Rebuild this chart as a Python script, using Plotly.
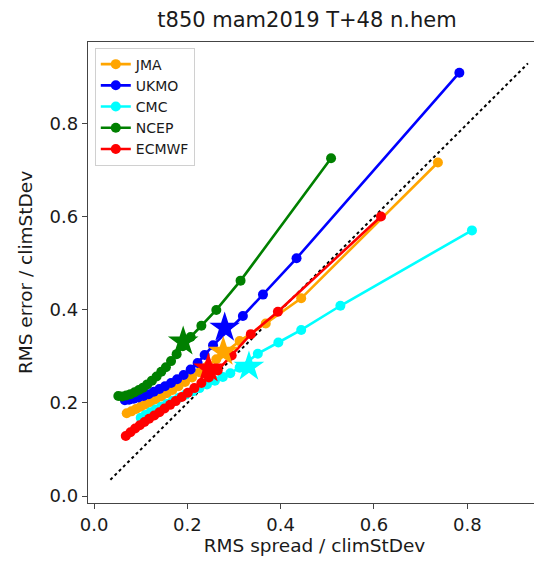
import plotly.graph_objects as go

# ---- data ----
models = ["JMA", "UKMO", "CMC", "NCEP", "ECMWF"]
colors = ["#FFA500", "#0000FF", "#00FFFF", "#008000", "#FF0000"]

jma_x = [0.070, 0.080, 0.090, 0.100, 0.110, 0.121, 0.132, 0.144, 0.156, 0.168, 0.181, 0.195, 0.210, 0.226, 0.243, 0.262, 0.312, 0.368, 0.444, 0.737]
jma_y = [0.178, 0.182, 0.187, 0.192, 0.197, 0.202, 0.208, 0.214, 0.221, 0.228, 0.236, 0.245, 0.255, 0.266, 0.279, 0.294, 0.333, 0.371, 0.425, 0.717]

ukmo_x = [0.066, 0.075, 0.085, 0.095, 0.106, 0.117, 0.128, 0.140, 0.152, 0.165, 0.178, 0.192, 0.207, 0.222, 0.237, 0.255, 0.319, 0.362, 0.434, 0.783]
ukmo_y = [0.206, 0.207, 0.209, 0.212, 0.215, 0.219, 0.224, 0.230, 0.236, 0.243, 0.251, 0.260, 0.272, 0.286, 0.303, 0.324, 0.387, 0.433, 0.511, 0.910]

cmc_x = [0.100, 0.110, 0.121, 0.132, 0.144, 0.156, 0.169, 0.182, 0.196, 0.211, 0.226, 0.242, 0.259, 0.276, 0.292, 0.312, 0.351, 0.395, 0.444, 0.528, 0.810]
cmc_y = [0.168, 0.174, 0.180, 0.186, 0.192, 0.198, 0.205, 0.211, 0.218, 0.225, 0.232, 0.240, 0.248, 0.256, 0.264, 0.276, 0.306, 0.330, 0.357, 0.409, 0.571]

ncep_x = [0.052, 0.060, 0.069, 0.078, 0.087, 0.096, 0.105, 0.114, 0.124, 0.134, 0.144, 0.154, 0.165, 0.177, 0.190, 0.207, 0.230, 0.262, 0.314, 0.508]
ncep_y = [0.215, 0.214, 0.216, 0.219, 0.223, 0.228, 0.233, 0.240, 0.248, 0.257, 0.267, 0.277, 0.290, 0.305, 0.322, 0.342, 0.366, 0.400, 0.463, 0.726]

ecmwf_x = [0.068, 0.078, 0.088, 0.098, 0.108, 0.118, 0.129, 0.140, 0.151, 0.163, 0.175, 0.188, 0.201, 0.215, 0.230, 0.246, 0.265, 0.295, 0.336, 0.394, 0.615]
ecmwf_y = [0.129, 0.137, 0.145, 0.152, 0.159, 0.166, 0.173, 0.180, 0.188, 0.196, 0.204, 0.213, 0.222, 0.232, 0.243, 0.255, 0.270, 0.302, 0.348, 0.396, 0.601]

# mean (star) points
star_x = [0.277, 0.280, 0.332, 0.191, 0.245]
star_y = [0.310, 0.362, 0.278, 0.332, 0.274]

diag = [0.035, 0.93]

title = "t850 mam2019 T+48 n.hem"
xlabel = "RMS spread / climStDev"
ylabel = "RMS error / climStDev"

series_x = [jma_x, ukmo_x, cmc_x, ncep_x, ecmwf_x]
series_y = [jma_y, ukmo_y, cmc_y, ncep_y, ecmwf_y]

FONT = "DejaVu Sans"
TXT = "#1a1a1a"
# page body has an 8px margin: figure drawn at offset (8, 8) in the window
W, H = 534, 553

fig = go.Figure()

fig.add_trace(go.Scatter(x=diag, y=diag, mode="lines",
                         line=dict(color="black", width=2, dash="dot"),
                         showlegend=False, hoverinfo="skip"))

for name, c, xs, ys in zip(models, colors, series_x, series_y):
    fig.add_trace(go.Scatter(x=xs, y=ys, mode="lines+markers", name=name,
                             line=dict(color=c, width=2.6),
                             marker=dict(color=c, size=10, line=dict(width=0))))

for name, c, sx, sy in zip(models, colors, star_x, star_y):
    fig.add_trace(go.Scatter(x=[sx], y=[sy], mode="markers", showlegend=False,
                             marker=dict(symbol="star", color=c, size=23, line=dict(width=0))))

axis_common = dict(
    showgrid=False, zeroline=False, showline=True, linecolor="#444444", linewidth=1.3,
    ticks="outside", ticklen=5, tickwidth=1.2, tickcolor="#444444",
    dtick=0.2, tick0=0, tickformat=".1f", automargin=False,
    tickfont=dict(family=FONT, size=18, color=TXT),
)

fig.update_layout(
    width=W, height=H,
    margin=dict(l=80, r=1, t=34, b=58),
    paper_bgcolor="white", plot_bgcolor="white",
    font=dict(family=FONT, color=TXT),
    title=dict(text=title, x=299 / W, xref="container", xanchor="center",
               y=1 - 12 / H, yref="container", yanchor="middle",
               font=dict(family=FONT, size=21, color=TXT)),
    xaxis=dict(range=[-0.013, 0.958], mirror=True,
               title=dict(text=xlabel, font=dict(family=FONT, size=18.5, color=TXT), standoff=5),
               **axis_common),
    yaxis=dict(range=[-0.015, 0.976],
               title=dict(text=ylabel, font=dict(family=FONT, size=18.5, color=TXT), standoff=12),
               **axis_common),
    legend=dict(x=0.015, y=0.988, xanchor="left", yanchor="top",
                bgcolor="rgba(255,255,255,0.85)", bordercolor="#d0d0d0", borderwidth=1,
                font=dict(family=FONT, size=14, color=TXT),
                itemwidth=30, tracegroupgap=0),
    showlegend=True,
)

fig.write_html("out.html")
